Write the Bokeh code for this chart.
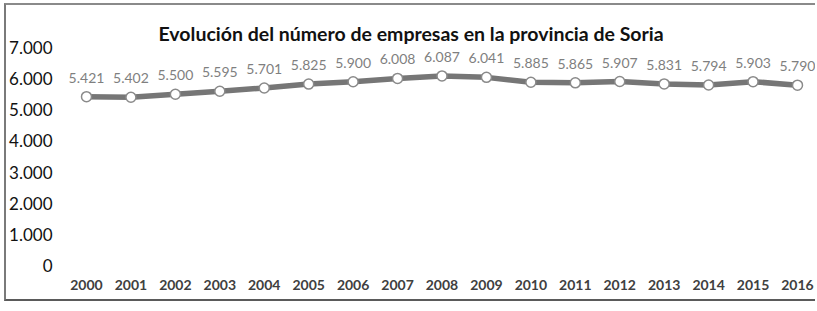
from bokeh.plotting import figure
from bokeh.models import ColumnDataSource, Range1d, FixedTicker, LabelSet
from bokeh.core.properties import value
from bokeh.embed import file_html
from bokeh.resources import INLINE

years = [2000, 2001, 2002, 2003, 2004, 2005, 2006, 2007, 2008,
         2009, 2010, 2011, 2012, 2013, 2014, 2015, 2016]
empresas = [5421, 5402, 5500, 5595, 5701, 5825, 5900, 6008, 6087,
            6041, 5885, 5865, 5907, 5831, 5794, 5903, 5790]
y_ticks = [0, 1000, 2000, 3000, 4000, 5000, 6000, 7000]
y_tick_labels = ["0", "1.000", "2.000", "3.000", "4.000", "5.000", "6.000", "7.000"]
title_text = "Evolución del número de empresas en la provincia de Soria"

labels = [f"{v:,}".replace(",", ".") for v in empresas]
src = ColumnDataSource(dict(x=years, y=empresas, lab=labels))

p = figure(width=811, height=298, output_backend="svg", toolbar_location=None,
           x_range=Range1d(1999.55, 2016.45), y_range=Range1d(0, 7000),
           min_border_left=56, min_border_right=0, min_border_top=42,
           min_border_bottom=38)
p.styles = {"border-left": "2px solid #7a7a7a",
            "border-top": "2px solid #8a8a8a",
            "border-bottom": "2px solid #5a5a5a",
            "margin-left": "4px", "margin-top": "3px"}

p.title.text = title_text
p.title.align = "left"
p.title.offset = 92
p.title.standoff = 6
p.title.text_font = "Lato"
p.title.text_font_size = "19.5px"
p.title.text_font_style = "bold"
p.title.text_color = "#111111"

p.outline_line_color = None
p.xgrid.grid_line_color = None
p.ygrid.ticker = FixedTicker(ticks=[0])
p.ygrid.grid_line_color = "#d9d9d9"
p.ygrid.grid_line_width = 1.5

p.yaxis.ticker = FixedTicker(ticks=y_ticks)
p.yaxis.major_label_overrides = {t: l for t, l in zip(y_ticks, y_tick_labels)}
p.yaxis.axis_line_color = None
p.yaxis.major_tick_line_color = None
p.yaxis.minor_tick_line_color = None
p.yaxis.major_label_text_font = "Lato"
p.yaxis.major_label_text_font_size = "17px"
p.yaxis.major_label_text_color = "#111111"
p.yaxis.major_label_standoff = 8

p.xaxis.ticker = FixedTicker(ticks=years)
p.xaxis.major_label_overrides = {y: str(y) for y in years}
p.xaxis.axis_line_color = None
p.xaxis.major_tick_line_color = None
p.xaxis.minor_tick_line_color = None
p.xaxis.major_label_text_font = "Lato"
p.xaxis.major_label_text_font_size = "14px"
p.xaxis.major_label_text_font_style = "bold"
p.xaxis.major_label_text_color = "#404040"
p.xaxis.major_label_standoff = 8

p.line("x", "y", source=src, line_color="#767676", line_width=5.5)
p.scatter("x", "y", source=src, size=10, fill_color="white",
          line_color="#8a8a8a", line_width=1.5)

ls = LabelSet(x="x", y="y", text="lab", source=src, text_align="center",
              text_baseline="bottom", y_offset=14, text_font=value("Lato"),
              text_font_size=value("14px"), text_color="#7f7f7f")
p.add_layout(ls)

open("out.html", "w").write(file_html(p, INLINE))
